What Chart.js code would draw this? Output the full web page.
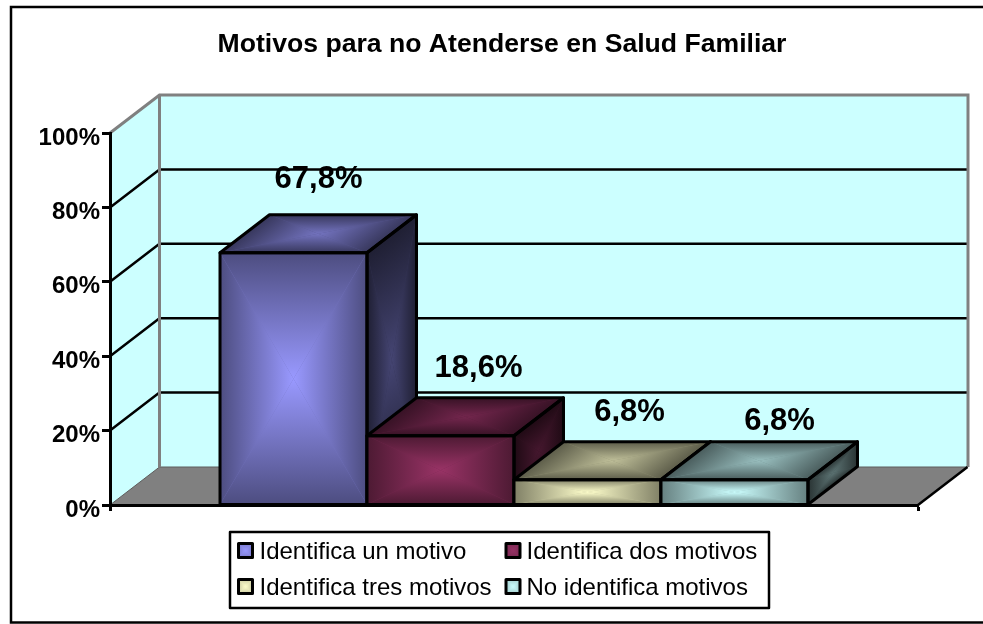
<!DOCTYPE html>
<html>
<head>
<meta charset="utf-8">
<style>html,body{margin:0;padding:0;background:#fff;overflow:hidden}canvas{display:block}</style>
<script src="https://cdn.jsdelivr.net/npm/chart.js@4"></script>
</head>
<body>
<canvas id="c" width="983" height="624"></canvas>
<script>
const chartTitle = 'Motivos para no Atenderse en Salud Familiar';
const categories = [''];
const seriesNames = ['Identifica un motivo', 'Identifica dos motivos', 'Identifica tres motivos', 'No identifica motivos'];
const seriesValues = [[67.8], [18.6], [6.8], [6.8]];
const seriesColors = ['#9999FF', '#993366', '#FFFFCC', '#CCFFFF'];
const yTicks = [0, 20, 40, 60, 80, 100];

const FONT = '"Liberation Sans", Arial, sans-serif';
const DX = 49.5, DY = 38;
const labelShift = [[25, -73], [38, -67], [42, -67], [45, -58]];
const legendCols = [{sw: 238.5, tx: 259.5}, {sw: 506, tx: 526.5}];
const legendRows = [{sw: 543.5, base: 558.5}, {sw: 579.5, base: 594.5}];

function hexRgb(h) { return [1, 3, 5].map(i => parseInt(h.substr(i, 2), 16)); }
function shade(rgb, f) { return 'rgb(' + rgb.map(v => Math.round(v * f)).join(',') + ')'; }

// parallelogram with a "from centre" gradient: bright centre, dark edges
function gradientFace(ctx, pts, color, fc, fe) {
  const rgb = hexRgb(color);
  const o = pts[0], u = [pts[1][0] - o[0], pts[1][1] - o[1]], v = [pts[3][0] - o[0], pts[3][1] - o[1]];
  ctx.save();
  ctx.transform(u[0], u[1], v[0], v[1], o[0], o[1]);
  ctx.fillStyle = shade(rgb, (fc + fe) / 2);
  ctx.fillRect(0, 0, 1, 1);
  const tris = [
    [[0, 0], [1, 0], [0, 0, 0, 0.5]],
    [[1, 0], [1, 1], [1, 0, 0.5, 0]],
    [[1, 1], [0, 1], [0, 1, 0, 0.5]],
    [[0, 1], [0, 0], [0, 0, 0.5, 0]]
  ];
  tris.forEach(([a, b, gr]) => {
    const g = ctx.createLinearGradient(gr[0], gr[1], gr[2], gr[3]);
    g.addColorStop(0, shade(rgb, fe));
    g.addColorStop(1, shade(rgb, fc));
    ctx.beginPath();
    ctx.moveTo(a[0], a[1]); ctx.lineTo(b[0], b[1]); ctx.lineTo(0.5, 0.5); ctx.closePath();
    ctx.fillStyle = g;
    ctx.fill();
  });
  ctx.restore();
}
function outline(ctx, pts, w) {
  ctx.beginPath();
  pts.forEach((p, i) => i ? ctx.lineTo(p[0], p[1]) : ctx.moveTo(p[0], p[1]));
  ctx.closePath();
  ctx.strokeStyle = '#000'; ctx.lineWidth = w; ctx.lineJoin = 'round'; ctx.stroke();
}
function seg(ctx, pts, color, w) {
  ctx.beginPath();
  pts.forEach((p, i) => i ? ctx.lineTo(p[0], p[1]) : ctx.moveTo(p[0], p[1]));
  ctx.strokeStyle = color; ctx.lineWidth = w; ctx.lineJoin = 'miter'; ctx.stroke();
}

const scene3d = {
  id: 'scene3d',
  afterLayout(chart) {
    chart.titleBlock.left = 21;
    chart.titleBlock.right = 983;
  },
  beforeDraw(chart) {
    const ctx = chart.ctx, a = chart.chartArea, y = chart.scales.y;
    const L = a.left, R = a.right, T = a.top, B = a.bottom;
    ctx.save();
    ctx.fillStyle = '#fff'; ctx.fillRect(0, 0, chart.width, chart.height);
    ctx.strokeStyle = '#000'; ctx.lineWidth = 2.5;
    ctx.strokeRect(11, 7, 1010, 615.5);
    ctx.fillStyle = '#CCFFFF';
    ctx.fillRect(L + DX, T - DY, R - L, B - T);
    ctx.beginPath();
    ctx.moveTo(L, T); ctx.lineTo(L + DX, T - DY); ctx.lineTo(L + DX, B - DY); ctx.lineTo(L, B); ctx.closePath();
    ctx.fill();
    ctx.fillStyle = '#808080';
    ctx.beginPath();
    ctx.moveTo(L, B); ctx.lineTo(L + DX, B - DY); ctx.lineTo(R + DX, B - DY); ctx.lineTo(R, B); ctx.closePath();
    ctx.fill();
    seg(ctx, [[L, B], [L + DX, B - DY], [R + DX, B - DY]], '#5c5c5c', 1);
    yTicks.slice(1, -1).forEach(v => {
      const py = y.getPixelForValue(v);
      seg(ctx, [[L, py], [L + DX, py - DY], [R + DX, py - DY]], '#000', 2.5);
    });
    seg(ctx, [[L, T], [L + DX, T - DY], [R + DX + 0.5, T - DY], [R + DX + 0.5, B - DY]], '#808080', 3);
    seg(ctx, [[L + DX, T - DY], [L + DX, B - DY]], '#808080', 3);
    seg(ctx, [[R, B], [R + DX, B - DY]], '#000', 2.5);
    ctx.restore();
  },
  afterDatasetsDraw(chart) {
    const ctx = chart.ctx;
    ctx.save();
    seriesValues.forEach((vals, i) => {
      const el = chart.getDatasetMeta(i).data[0];
      const l = el.x - el.width / 2, r = el.x + el.width / 2, t = el.y, b = el.base;
      const side = [[r, t], [r + DX, t - DY], [r + DX, b - DY], [r, b]];
      const top = [[l, t], [l + DX, t - DY], [r + DX, t - DY], [r, t]];
      const front = [[l, t], [r, t], [r, b], [l, b]];
      gradientFace(ctx, side, seriesColors[i], 0.45, 0.2);
      gradientFace(ctx, top, seriesColors[i], 0.75, 0.36);
      gradientFace(ctx, front, seriesColors[i], 1, 0.5);
      outline(ctx, side, 3);
      outline(ctx, top, 3);
      outline(ctx, front, 3);
    });
    ctx.fillStyle = '#000';
    ctx.font = 'bold 31px ' + FONT;
    ctx.textAlign = 'center'; ctx.textBaseline = 'middle';
    seriesValues.forEach((vals, i) => {
      const el = chart.getDatasetMeta(i).data[0];
      ctx.fillText(vals[0].toFixed(1).replace('.', ',') + '%', el.x + labelShift[i][0], el.y + labelShift[i][1]);
    });
    // legend
    ctx.fillStyle = '#fff'; ctx.fillRect(230, 532, 539, 76);
    ctx.strokeStyle = '#000'; ctx.lineWidth = 2.5;
    ctx.strokeRect(230, 532, 539, 76);
    ctx.font = '24px ' + FONT;
    ctx.textAlign = 'left'; ctx.textBaseline = 'alphabetic';
    seriesNames.forEach((name, i) => {
      const col = legendCols[i % 2], row = legendRows[Math.floor(i / 2)];
      const s = 14;
      const pts = [[col.sw, row.sw], [col.sw + s, row.sw], [col.sw + s, row.sw + s], [col.sw, row.sw + s]];
      gradientFace(ctx, pts, seriesColors[i], 1, 0.8);
      outline(ctx, pts, 3);
      ctx.fillStyle = '#000';
      ctx.fillText(name, col.tx, row.base);
    });
    ctx.restore();
  }
};

new Chart(document.getElementById('c'), {
  type: 'bar',
  plugins: [scene3d],
  data: {
    labels: categories,
    datasets: seriesNames.map((name, i) => ({
      label: name,
      data: seriesValues[i],
      backgroundColor: seriesColors[i],
      categoryPercentage: 0.7277,
      barPercentage: 1
    }))
  },
  options: {
    responsive: false,
    animation: false,
    layout: { padding: { top: 0, left: 0, right: 65, bottom: 119 } },
    plugins: {
      legend: { display: false },
      tooltip: { enabled: false },
      title: {
        display: true,
        text: chartTitle,
        color: '#000',
        font: { family: FONT, size: 26.6, weight: 'bold', lineHeight: 1.2 },
        padding: { top: 29, bottom: 72.1 }
      }
    },
    scales: {
      x: {
        offset: true,
        afterFit(s) { s.height = 0; },
        ticks: { display: false },
        grid: { offset: true, drawOnChartArea: false, drawTicks: true, tickLength: 6, tickColor: '#000', tickWidth: 3 },
        border: { display: true, color: '#000', width: 3 }
      },
      y: {
        min: 0, max: 100,
        afterFit(s) { s.width = 110; },
        afterBuildTicks(s) { s.ticks = yTicks.map(v => ({ value: v })); },
        ticks: {
          color: '#000', padding: 2, labelOffset: 5,
          font: { family: FONT, size: 24, weight: 'bold' },
          callback: v => v + '%'
        },
        grid: { drawOnChartArea: false, drawTicks: true, tickLength: 8, tickColor: '#000', tickWidth: 3 },
        border: { display: true, color: '#000', width: 3 }
      }
    }
  }
});
</script>
</body>
</html>
